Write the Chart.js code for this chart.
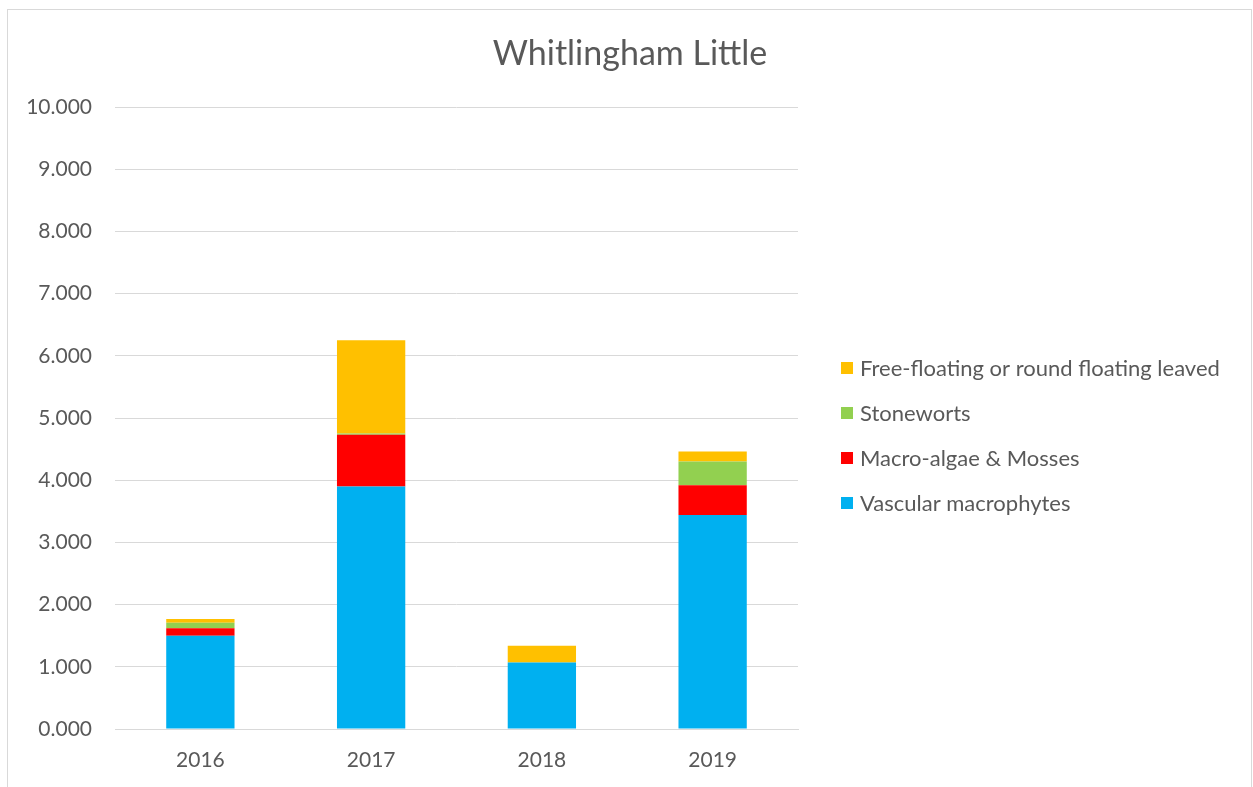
<!DOCTYPE html>
<html>
<head>
<meta charset="utf-8">
<script src="https://cdn.jsdelivr.net/npm/chart.js@4"></script>
<style>
    body { margin: 0; background: #fff; }
    #frame {
        position: absolute; left: 7px; top: 9px; width: 1245px; height: 790px;
        border: 1px solid #d9d9d9; box-sizing: border-box;
    }
    #wrap { position: absolute; left: 0; top: 0; width: 1253px; height: 787px; }
</style>
</head>
<body>
<div id="frame"></div>
<div id="wrap"><canvas id="chart"></canvas></div>
<script>
// Survey years and cover values per plant group
const years = ['2016', '2017', '2018', '2019'];
const vascular = [1.50, 3.90, 1.07, 3.44];
const macroAlgae = [0.12, 0.83, 0.00, 0.48];
const stoneworts = [0.09, 0.02, 0.00, 0.38];
const freeFloating = [0.06, 1.50, 0.27, 0.16];
const yTicks = [0, 1, 2, 3, 4, 5, 6, 7, 8, 9, 10];

const chartTitle = 'Whitlingham Little';
const textColor = '#595959';
const gridColor = '#d9d9d9';
const fontFamily = 'Lato, "Open Sans", sans-serif';

// Title centred over the whole canvas, legend to the right of the plot
// (top entry is the last dataset, like a stacked column legend)
const titleAndLegend = {
    id: 'titleAndLegend',
    afterDraw(chart) {
        const ctx = chart.ctx;
        ctx.save();
        ctx.fillStyle = textColor;
        ctx.textBaseline = 'middle';
        ctx.textAlign = 'center';
        ctx.font = '34px ' + fontFamily;
        ctx.fillText(chartTitle, 630, 54);

        const items = chart.data.datasets.slice().reverse();
        const x = chart.chartArea.right + 43;
        const top = 368;
        ctx.font = '22px ' + fontFamily;
        ctx.textAlign = 'left';
        items.forEach((ds, i) => {
            const y = top + i * 45;
            ctx.fillStyle = ds.backgroundColor;
            ctx.fillRect(x, y - 6, 12, 12);
            ctx.fillStyle = textColor;
            ctx.fillText(ds.label, x + 19, y + 1);
        });
        ctx.restore();
    }
};

new Chart(document.getElementById('chart'), {
    type: 'bar',
    data: {
        labels: years,
        datasets: [
            { label: 'Vascular macrophytes', data: vascular, backgroundColor: '#00B0F0' },
            { label: 'Macro-algae & Mosses', data: macroAlgae, backgroundColor: '#FF0000' },
            { label: 'Stoneworts', data: stoneworts, backgroundColor: '#92D050' },
            { label: 'Free-floating or round floating leaved', data: freeFloating, backgroundColor: '#FFC000' }
        ]
    },
    plugins: [titleAndLegend],
    options: {
        responsive: true,
        maintainAspectRatio: false,
        animation: false,
        datasets: { bar: { categoryPercentage: 1, barPercentage: 0.4 } },
        layout: { padding: { left: 0, right: 455, top: 107, bottom: 0 } },
        plugins: {
            title: { display: false },
            legend: { display: false },
            tooltip: { enabled: false }
        },
        scales: {
            x: {
                stacked: true,
                afterFit: axis => { axis.height = 58; },
                grid: { display: false, drawTicks: false },
                border: { color: gridColor },
                ticks: { color: textColor, font: { family: fontFamily, size: 21 }, padding: 19 }
            },
            y: {
                stacked: true,
                min: 0,
                max: 10,
                afterBuildTicks: axis => { axis.ticks = yTicks.map(v => ({ value: v })); },
                afterFit: axis => { axis.width = 115; },
                grid: { color: gridColor, drawTicks: false },
                border: { display: false },
                ticks: {
                    color: textColor,
                    font: { family: fontFamily, size: 21 },
                    padding: 23,
                    callback: v => v.toFixed(3)
                }
            }
        }
    }
});
</script>
</body>
</html>
